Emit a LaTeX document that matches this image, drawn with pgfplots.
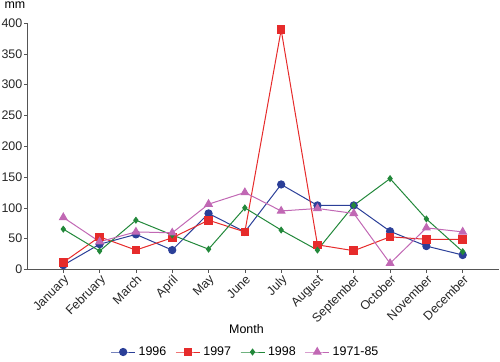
\documentclass[border=0pt]{standalone}
\usepackage{fontspec}
\setmainfont{Liberation Sans}
\usepackage{pgfplots}
\pgfplotsset{compat=1.18}
\definecolor{cblue}{HTML}{2B3F98}
\definecolor{cred}{HTML}{E62B2B}
\definecolor{cgreen}{HTML}{22883A}
\definecolor{cpink}{HTML}{C168B4}
\definecolor{axgray}{HTML}{555555}
\begin{document}
\begin{tikzpicture}
\useasboundingbox (-27bp,-92.5bp) rectangle (473bp,269.5bp);
\begin{axis}[
  scale only axis,
  width=472bp, height=246.5bp,
  xmin=-1, xmax=12, ymin=0, ymax=400,
  axis x line*=bottom, axis y line*=left,
  axis line style={axgray, line width=0.8bp, -},
  xtick={0,...,11},
  xticklabels={January,February,March,April,May,June,July,August,September,October,November,December},
  ytick={0,50,...,400},
  tick align=outside,
  major tick length=3bp,
  tick style={axgray, line width=0.6bp},
  font=\fontsize{12.5}{14}\selectfont,
  /pgf/number format/assume math mode=true,
  xticklabel style={rotate=45, anchor=north east, inner sep=1bp, text=black!85},
  yticklabel style={text=black!85, inner sep=1.5bp},
  xlabel={Month},
  every axis x label/.style={at={(axis description cs:0.465,0)}, anchor=center, yshift=-60bp},
  ylabel={mm},
  every axis y label/.style={at={(axis description cs:0,1)}, anchor=center, xshift=-12bp, yshift=17.5bp},
  legend columns=4,
  legend style={draw=none, fill=none, at={(axis description cs:0.463,0)}, anchor=center, yshift=-82.5bp,
    /tikz/every odd column/.append style={column sep=1bp},
    /tikz/every even column/.append style={column sep=7bp},
    font=\fontsize{12.5}{14}\selectfont},
  legend image code/.code={\draw[#1] (0bp,0bp) -- (12bp,0bp) -- (24bp,0bp); \draw[#1, only marks] plot coordinates {(12bp,0bp)};},
]
\addplot[cblue, line width=1bp, mark=*, mark size=3.6bp] coordinates {
(0,7) (1,41) (2,57) (3,31.5) (4,91) (5,61) (6,138) (7,104) (8,104) (9,62) (10,38) (11,23.5)};
\addlegendentry{1996}
\addplot[cred, line width=1bp, mark=square*, mark size=3.8bp] coordinates {
(0,11.6) (1,53) (2,31.5) (3,51.5) (4,80) (5,61) (6,389) (7,40) (8,30.5) (9,53) (10,49) (11,49)};
\addlegendentry{1997}
\addplot[cgreen, line width=1bp, mark=diamond*, mark size=2.8bp] coordinates {
(0,65.5) (1,30) (2,80) (3,56) (4,33) (5,100) (6,64) (7,31.5) (8,104) (9,147.5) (10,82) (11,29)};
\addlegendentry{1998}
\addplot[cpink, line width=1bp, mark=triangle*, mark size=4.3bp] coordinates {
(0,84.5) (1,45) (2,61) (3,59.5) (4,106) (5,125) (6,95) (7,99) (8,91) (9,10) (10,67.6) (11,61)};
\addlegendentry{1971-85}
\end{axis}
\end{tikzpicture}
\end{document}
